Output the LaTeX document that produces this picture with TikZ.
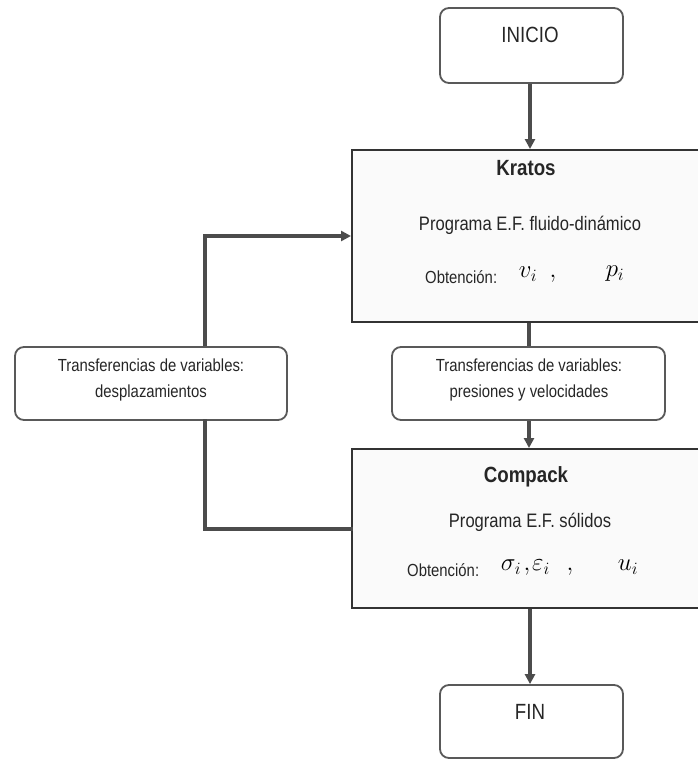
\documentclass[tikz,border=0pt]{standalone}
\usepackage{fontspec}
\setmainfont{Liberation Sans}[FakeStretch=0.85]
\usetikzlibrary{arrows.meta}
\begin{document}
\begin{tikzpicture}[x=1pt,y=-1pt,
  rbox/.style={draw=black!65, line width=1.8pt, rounded corners=9pt, fill=white, inner sep=0pt},
  pbox/.style={draw=black!80, line width=2pt, fill=black!2, inner sep=0pt},
  txt/.style={inner sep=0pt, align=center, text=black!85},
  mth/.style={inner sep=0pt, font=\fontsize{24}{26}\selectfont},
  conn/.style={draw=black!70, line width=3.2pt},
  arr/.style={conn, -{Triangle[length=10pt,width=10pt]}},
]
\useasboundingbox (0,0) rectangle (697,760);
\fill[white] (0,0) rectangle (697,760);

% boxes
\node[rbox, minimum width=183pt, minimum height=75pt] (inicio) at (531.5,45.5) {};
\node[txt, font=\fontsize{22}{24}\selectfont] (tinicio) at (530,35) {INICIO};

\node[pbox, minimum width=350pt, minimum height=172pt] (kratos) at (527,236) {};
\node[txt, font=\fontsize{22}{24}\selectfont\bfseries] (tkratos) at (526,168) {Kratos};
\node[txt, font=\fontsize{19.5}{22}\selectfont] (tkprog) at (530,225) {Programa E.F. fluido-dinámico};
\node[txt, font=\fontsize{17.5}{20}\selectfont, anchor=west] (tkobt) at (425,277) {Obtención:};
\node[mth] (tkv) at (528,274) {$v_i$};
\node[mth] (tkc) at (553,279) {$,$};
\node[mth] (tkp) at (615,274) {$p_i$};

\node[rbox, minimum width=272pt, minimum height=73pt] (left) at (151,383.5) {};
\node[txt, font=\fontsize{17.5}{26}\selectfont] (tleft) at (151,380) {Transferencias de variables:\\desplazamientos};

\node[rbox, minimum width=273pt, minimum height=73pt] (mid) at (528.5,383.5) {};
\node[txt, font=\fontsize{17.5}{26}\selectfont] (tmid) at (529,380) {Transferencias de variables:\\presiones y velocidades};

\node[pbox, minimum width=350pt, minimum height=159pt] (compack) at (527,528.5) {};
\node[txt, font=\fontsize{22}{24}\selectfont\bfseries] (tcompack) at (526,477) {Compack};
\node[txt, font=\fontsize{19.5}{22}\selectfont] (tcprog) at (530,522) {Programa E.F. sólidos};
\node[txt, font=\fontsize{17.5}{20}\selectfont, anchor=west] (tcobt) at (407,570) {Obtención:};
\node[mth] (tcs) at (511,567) {$\sigma_i$};
\node[mth] (tcc1) at (527,572) {$,$};
\node[mth] (tce) at (541,567) {$\varepsilon_i$};
\node[mth] (tcc2) at (570,572) {$,$};
\node[mth] (tcu) at (628,567) {$u_i$};

\node[rbox, minimum width=183pt, minimum height=73pt] (fin) at (531.5,721.5) {};
\node[txt, font=\fontsize{22}{24}\selectfont] (tfin) at (530,712) {FIN};

% connectors
\coordinate (kin) at (kratos.west |- 0,236);
\coordinate (cin) at (compack.west |- 0,529);
\draw[arr] (inicio.south -| 530,0) -- (kratos.north -| 530,0);
\draw[conn] (kratos.south -| 529,0) -- (mid.north -| 529,0);
\draw[arr] (mid.south -| 529,0) -- (compack.north -| 529,0);
\draw[arr] (compack.south -| 530,0) -- (fin.north -| 530,0);
\draw[arr] (left.north -| 205,0) |- (kin);
\draw[conn, line cap=rect] (left.south -| 205,0) |- (cin);
\end{tikzpicture}
\end{document}
